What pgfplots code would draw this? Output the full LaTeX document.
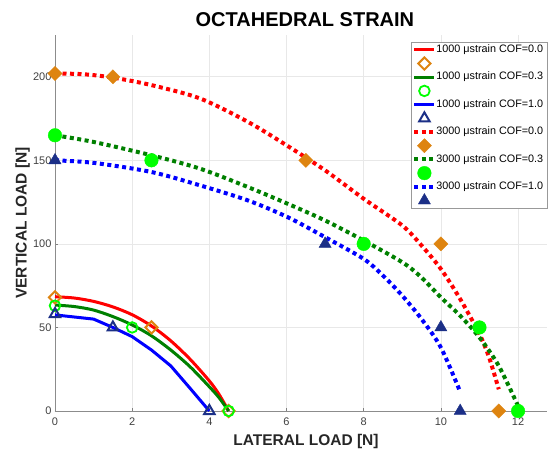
\documentclass[border=0pt]{standalone}
\usepackage{pgfplots}
\pgfplotsset{compat=1.18}
\usepackage{fontspec}
\setmainfont{Liberation Sans}
\definecolor{morange}{HTML}{DE8410}
\definecolor{mnavy}{HTML}{1B2F87}
\definecolor{mgreen}{HTML}{00FF00}
\definecolor{dgreen}{HTML}{008000}
\definecolor{tickgray}{HTML}{404040}
\pgfplotsset{
  lineimg/.style={legend image code/.code={\path[draw=none,fill=none] (0pt,-3pt) rectangle (20.5pt,3pt); \draw[##1,overlay] (0pt,0pt) -- (20pt,0pt);}},
  markimg/.style={legend image code/.code={\path[draw=none,fill=none] (0pt,-3pt) rectangle (20.5pt,3pt); \draw[##1,overlay] plot coordinates {(10pt,0pt)};}},
  solidline/.style={line width=3pt, no marks, lineimg},
  dotline/.style={line width=4pt, dash pattern=on 4pt off 3.5pt, no marks, lineimg},
}
\begin{document}
\begin{tikzpicture}
\useasboundingbox (-55pt,-39pt) rectangle (496pt,411pt);
\begin{axis}[
  scale only axis, width=492pt, height=376pt,
  xmin=0, xmax=12.75, ymin=0, ymax=225,
  axis x line=bottom, axis y line=left,
  axis line style={-, draw=gray!90, line width=0.6pt},
  xtick={0,2,...,12}, ytick={0,50,...,200},
  grid=major, major grid style={draw=black!9, line width=0.6pt},
  tick style={draw=gray, line width=0.5pt}, major tick length=3pt, tick align=inside,
  tick label style={font=\fontsize{11}{13}\selectfont, text=tickgray},
  xticklabel style={yshift=-3pt},
  /pgf/number format/assume math mode=true,
  every axis title shift=0pt,
  title={OCTAHEDRAL STRAIN},
  title style={font=\bfseries\fontsize{20}{22}\selectfont, at={(axis description cs:0.508,1.022)}, anchor=base, yshift=0pt},
  xlabel={LATERAL LOAD [N]},
  xlabel style={font=\bfseries\fontsize{15.5}{17}\selectfont, text=black!85, at={(axis description cs:0.51,-0.0923)}, anchor=base},
  ylabel={VERTICAL LOAD [N]},
  ylabel style={font=\bfseries\fontsize{15.5}{17}\selectfont, text=black!85, at={(axis description cs:-0.0575,0.5)}, anchor=base},
  clip=false,
  legend cell align=left,
  legend style={at={(axis description cs:0.724,0.982)}, anchor=north west, draw=gray!80, fill=white,
    inner xsep=3pt, inner ysep=1pt, font=\fontsize{10.8}{13}\selectfont, row sep=0pt,
    nodes={inner xsep=1.5pt, inner ysep=1.5pt, text height=8pt, text depth=2.7pt}},
]
% 1000 ustrain COF=0.0
\addplot[red, solidline, smooth] coordinates {(0,68.4) (0.5,67.6) (1,65.6) (1.5,62.3) (2,57.6) (2.5,50.9) (3,42) (3.5,31) (4,18) (4.25,10) (4.5,0)};
\addlegendentry{1000 μstrain COF=0.0}
\addplot[only marks, markimg, color=morange, mark=square, mark size=4.3pt, mark options={rotate=45, solid, line width=2pt}] coordinates {(0,68) (2.5,50) (4.5,0)};
\addlegendentry{\mbox{}}
% 1000 COF=0.3
\addplot[dgreen, solidline, smooth] coordinates {(0,63.4) (0.5,62.5) (1,60.4) (1.5,56.5) (2,51.5) (2.5,45) (3,36.5) (3.5,26.5) (4,14.5) (4.25,8) (4.5,0)};
\addlegendentry{1000 μstrain COF=0.3}
\addplot[only marks, markimg, color=mgreen, mark=o, mark size=5.3pt, mark options={solid, line width=1.8pt}] coordinates {(0,63) (2,50) (4.5,0)};
\addlegendentry{\mbox{}}
% 1000 COF=1.0
\addplot[blue, solidline] coordinates {(0,57.5) (1,55) (1.5,50) (2,44.5) (2.5,36.5) (3,27) (3.5,13.6) (4,0)};
\addlegendentry{1000 μstrain COF=1.0}
\addplot[only marks, markimg, color=mnavy, mark=triangle, mark size=6pt, mark options={solid, line width=2pt}] coordinates {(0,58) (1.5,50) (4,0)};
\addlegendentry{\mbox{}}
% 3000 COF=0.0
\addplot[red, dotline, smooth] coordinates {(0,202) (0.75,201.5) (1.5,199.5) (2.5,195) (3.76,187) (5,173) (6,159) (7,144) (8,127) (9,111) (9.5,99) (10,85) (10.5,67) (11,46) (11.25,32) (11.5,13)};
\addlegendentry{3000 μstrain COF=0.0}
\addplot[only marks, markimg, color=morange, mark=square*, mark size=5pt, mark options={rotate=45, solid}] coordinates {(0,202) (1.5,200) (6.5,150) (10,100) (11.5,0)};
\addlegendentry{\mbox{}}
% 3000 COF=0.3
\addplot[dgreen, dotline, smooth] coordinates {(0,165) (1,161) (2.5,153) (3.76,145) (5,134) (6.03,124) (7,114) (8,102) (9,89) (9.47,80.5) (10,68) (10.5,57) (11,44) (11.5,27) (12,3)};
\addlegendentry{3000 μstrain COF=0.3}
\addplot[only marks, markimg, color=mgreen, mark=*, mark size=6.8pt, mark options={solid}] coordinates {(0,165) (2.5,150) (8,100) (11,50) (12,0)};
\addlegendentry{\mbox{}}
% 3000 COF=1.0
\addplot[blue, dotline, smooth] coordinates {(0,150) (1,148.5) (2.5,143) (3.76,135) (5,126) (6.03,116) (7,104) (8,91) (8.5,81) (9,69) (9.5,55) (10,38) (10.5,11.5)};
\addlegendentry{3000 μstrain COF=1.0}
\addplot[only marks, markimg, color=mnavy, mark=triangle*, mark size=7pt, mark options={solid}] coordinates {(0,150) (7,100) (10,50) (10.5,0)};
\addlegendentry{\mbox{}}
\end{axis}
\end{tikzpicture}
\end{document}
